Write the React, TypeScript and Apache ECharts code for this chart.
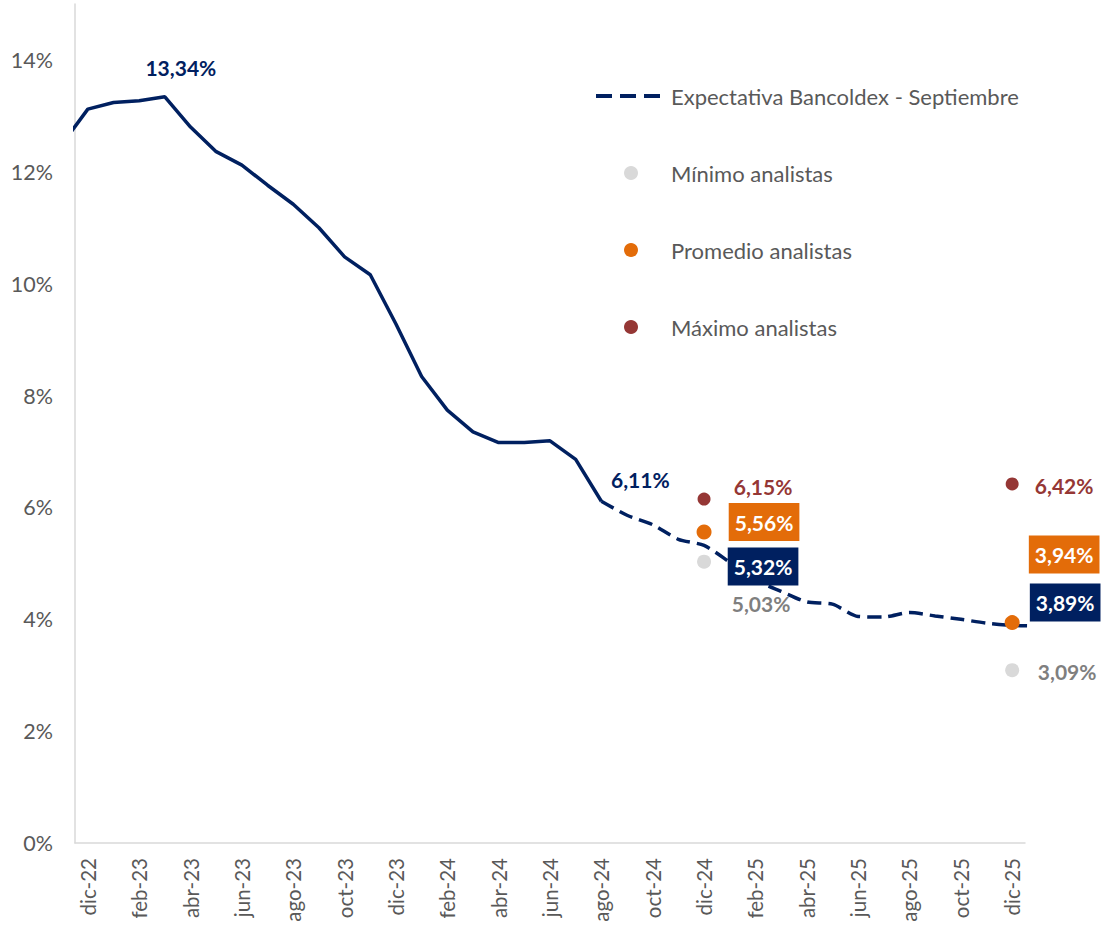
import React, { useEffect, useRef } from 'react';
import * as echarts from 'echarts';

// Category (tick) labels: one per month, dic-22 … dic-25
const categories = [
  'dic-22', 'ene-23', 'feb-23', 'mar-23', 'abr-23', 'may-23', 'jun-23', 'jul-23', 'ago-23', 'sep-23', 'oct-23', 'nov-23',
  'dic-23', 'ene-24', 'feb-24', 'mar-24', 'abr-24', 'may-24', 'jun-24', 'jul-24', 'ago-24', 'sep-24', 'oct-24', 'nov-24',
  'dic-24', 'ene-25', 'feb-25', 'mar-25', 'abr-25', 'may-25', 'jun-25', 'jul-25', 'ago-25', 'sep-25', 'oct-25', 'nov-25',
  'dic-25',
];

// Observed inflation, starting one month before the first category (nov-22, index -1) through ago-24 (index 20)
const historyStartIndex = -1;
const historyValues = [
  12.5, 13.12, 13.24, 13.27, 13.34, 12.8, 12.36, 12.12, 11.76, 11.42, 11.0, 10.48, 10.16,
  9.28, 8.34, 7.74, 7.35, 7.16, 7.16, 7.19, 6.86, 6.11,
];

// Bancoldex expectation from ago-24 (index 20) through ene-26 (index 37, beyond the axis)
const forecastStartIndex = 20;
const forecastValues = [
  6.11, 5.86, 5.69, 5.43, 5.32, 5.02, 4.7, 4.5, 4.31, 4.27, 4.05, 4.04, 4.12, 4.06, 4.0, 3.93, 3.89, 3.88,
];

// Analysts' survey points
const analystCategories = ['dic-24', 'dic-25'];
const minAnalysts = [5.03, 3.09];
const avgAnalysts = [5.56, 3.94];
const maxAnalysts = [6.15, 6.42];

// Y axis ticks
const yTicks = [0, 2, 4, 6, 8, 10, 12, 14];

const NAVY = '#002060';
const ORANGE = '#E36C09';
const MAROON = '#953735';
const LIGHTGRAY = '#D9D9D9';
const TEXTGRAY = '#595959';
const FONT = 'Lato, "Open Sans", sans-serif';

const fmt = (v: number) => v.toFixed(2).replace('.', ',') + '%';

export default function App() {
  const ref = useRef<HTMLDivElement>(null);

  useEffect(() => {
    document.body.style.margin = '0';
    if (!ref.current) return;
    const chart = echarts.init(ref.current, undefined, { renderer: 'svg' });

    const historyData = historyValues.map((v, i) => [historyStartIndex + i, v]);
    const forecastData = forecastValues.map((v, i) => [forecastStartIndex + i, v]);

    const idx = (name: string) => categories.indexOf(name);
    const histAt = (c: string) => historyValues[idx(c) - historyStartIndex];
    const foreAt = (c: string) => forecastValues[idx(c) - forecastStartIndex];

    const plainLabel = (color: string, offset: number[]) => ({
      show: true,
      position: 'inside',
      offset,
      color,
      opacity: 1,
      fontFamily: FONT,
      fontWeight: 'bold',
      fontSize: 21,
      formatter: (p: any) => fmt(p.value[1]),
    });
    const boxLabel = (bg: string, offset: number[]) => ({
      show: true,
      position: 'inside',
      offset,
      color: '#FFFFFF',
      opacity: 1,
      backgroundColor: bg,
      lineHeight: 24,
      padding: [7, 6, 7, 6],
      fontFamily: FONT,
      fontWeight: 'bold',
      fontSize: 21,
      formatter: (p: any) => fmt(p.value[1]),
    });

    const lineLabelPoints = [
      { value: [idx('mar-23'), histAt('mar-23')], label: plainLabel(NAVY, [16, -29]) },
      { value: [idx('ago-24'), histAt('ago-24')], label: plainLabel(NAVY, [39, -22]) },
      { value: [idx('dic-24'), foreAt('dic-24')], label: boxLabel(NAVY, [59, 21]) },
      { value: [idx('dic-25'), foreAt('dic-25')], label: boxLabel(NAVY, [53, -23]) },
    ];

    const minOffsets = [[57, 42], [55, 1]];
    const avgOffsets = [[60, -10], [52, -68]];
    const maxOffsets = [[59, -13], [52, 2]];

    const option: any = {
      animation: false,
      backgroundColor: '#FFFFFF',
      grid: { left: 75, right: 77, top: 4, bottom: 82, containLabel: false, outerBoundsMode: 'none' },
      legend: {
        orient: 'vertical',
        left: 594,
        top: 84,
        padding: 0,
        itemWidth: 70,
        itemHeight: 14,
        itemGap: 53,
        symbolKeepAspect: true,
        textStyle: { color: TEXTGRAY, fontSize: 22, fontFamily: FONT, lineHeight: 24 },
        data: [
          {
            name: 'Expectativa Bancoldex - Septiembre',
            itemStyle: { opacity: 0 },
            lineStyle: { width: 4, type: 'dashed', color: NAVY, opacity: 1 },
          },
          { name: 'Mínimo analistas', icon: 'circle' },
          { name: 'Promedio analistas', icon: 'circle' },
          { name: 'Máximo analistas', icon: 'circle' },
        ],
      },
      xAxis: [
        {
          type: 'category',
          data: categories,
          boundaryGap: true,
          axisLine: { show: true, onZero: false, lineStyle: { color: LIGHTGRAY, width: 1.5 } },
          axisTick: { show: false },
          axisLabel: {
            interval: 1,
            rotate: 90,
            margin: 15,
            color: TEXTGRAY,
            fontSize: 20.5,
            fontFamily: FONT,
          },
          splitLine: { show: false },
        },
        {
          type: 'value',
          min: -0.5,
          max: categories.length - 0.5,
          show: false,
          splitLine: { show: false },
        },
      ],
      yAxis: {
        type: 'value',
        min: 0,
        max: 15,
        interval: 2,
        axisLine: { show: true, onZero: false, lineStyle: { color: LIGHTGRAY, width: 1.5 } },
        axisTick: { show: false },
        splitLine: { show: false },
        axisLabel: {
          margin: 22,
          color: TEXTGRAY,
          fontSize: 21.5,
          fontFamily: FONT,
          formatter: (v: number) => (yTicks.includes(v) ? v + '%' : ''),
        },
      },
      series: [
        {
          name: 'Histórico',
          type: 'line',
          xAxisIndex: 1,
          data: historyData,
          symbol: 'none',
          clip: true,
          lineStyle: { color: NAVY, width: 3.5 },
          itemStyle: { color: NAVY },
          z: 2,
        },
        {
          name: 'Expectativa Bancoldex - Septiembre',
          type: 'line',
          xAxisIndex: 1,
          data: forecastData,
          symbol: 'none',
          smooth: 0.25,
          clip: true,
          lineStyle: { color: NAVY, width: 3.5, type: 'dashed' },
          itemStyle: { color: NAVY },
          z: 2,
        },
        {
          name: 'Mínimo analistas',
          type: 'scatter',
          data: analystCategories.map((c, i) => ({
            value: [c, minAnalysts[i]],
            label: plainLabel('#7F7F7F', minOffsets[i]),
          })),
          symbol: 'circle',
          symbolSize: 14,
          itemStyle: { color: LIGHTGRAY, opacity: 1 },
          z: 3,
        },
        {
          name: 'Promedio analistas',
          type: 'scatter',
          data: analystCategories.map((c, i) => ({
            value: [c, avgAnalysts[i]],
            label: boxLabel(ORANGE, avgOffsets[i]),
          })),
          symbol: 'circle',
          symbolSize: 15,
          itemStyle: { color: ORANGE, opacity: 1 },
          z: 3,
        },
        {
          name: 'Máximo analistas',
          type: 'scatter',
          data: analystCategories.map((c, i) => ({
            value: [c, maxAnalysts[i]],
            label: plainLabel(MAROON, maxOffsets[i]),
          })),
          symbol: 'circle',
          symbolSize: 13,
          itemStyle: { color: MAROON, opacity: 1 },
          z: 3,
        },
        {
          name: 'Etiquetas línea',
          type: 'scatter',
          xAxisIndex: 1,
          data: lineLabelPoints,
          symbol: 'circle',
          symbolSize: 1,
          itemStyle: { color: 'rgba(0,0,0,0)', opacity: 1 },
          silent: true,
          z: 4,
        },
      ],
    };

    chart.setOption(option);
    return () => chart.dispose();
  }, []);

  return <div ref={ref} style={{ width: 1102, height: 925 }} />;
}
